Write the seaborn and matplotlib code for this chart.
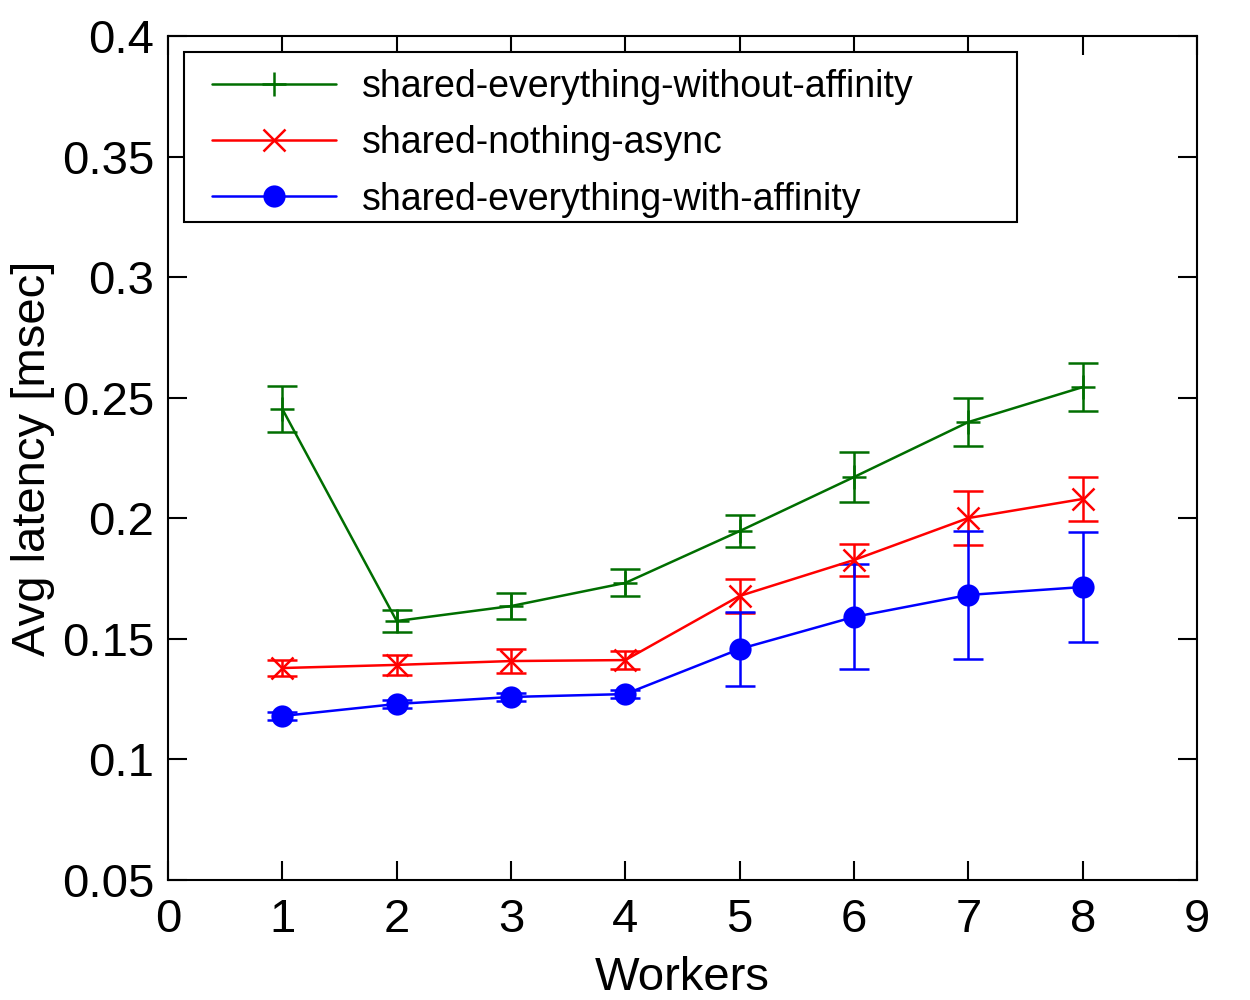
import matplotlib
matplotlib.use("Agg")
import matplotlib.pyplot as plt
from matplotlib.patches import Rectangle
import seaborn as sns
import pandas as pd

workers = [1, 2, 3, 4, 5, 6, 7, 8]

# shared-everything-without-affinity
se_noaff = [0.2453, 0.1574, 0.1636, 0.1732, 0.1947, 0.2171, 0.2399, 0.2544]
se_noaff_err = [0.0095, 0.0045, 0.0054, 0.0056, 0.0066, 0.0104, 0.0098, 0.0100]

# shared-nothing-async
sn_async = [0.1379, 0.1392, 0.1408, 0.1412, 0.1678, 0.1827, 0.2001, 0.2080]
sn_async_err = [0.0035, 0.0040, 0.0050, 0.0038, 0.0070, 0.0068, 0.0112, 0.0090]

# shared-everything-with-affinity
se_aff = [0.1180, 0.1230, 0.1259, 0.1271, 0.1458, 0.1591, 0.1682, 0.1715]
se_aff_err = [0.0015, 0.0015, 0.0015, 0.0015, 0.0155, 0.0218, 0.0265, 0.0228]

labels = ["shared-everything-without-affinity", "shared-nothing-async",
          "shared-everything-with-affinity"]
colors = ["#006e00", "#ff0000", "#0000ff"]
markers = ["+", "x", "o"]
msizes = [17, 16, 16]

sns.set_style("ticks")
plt.rcParams["font.family"] = ["Liberation Sans", "DejaVu Sans"]
plt.rcParams["text.color"] = "black"
plt.rcParams["axes.labelcolor"] = "black"
plt.rcParams["xtick.color"] = "black"
plt.rcParams["ytick.color"] = "black"

fig = plt.figure(figsize=(12.5, 10), dpi=100)
ax = fig.add_axes([0.1344, 0.12, 0.8232, 0.844])

series = [(se_noaff, se_noaff_err), (sn_async, sn_async_err), (se_aff, se_aff_err)]
for (vals, errs), lab, col, mk, ms in zip(series, labels, colors, markers, msizes):
    df = pd.DataFrame({"Workers": workers, "lat": vals})
    sns.lineplot(data=df, x="Workers", y="lat", ax=ax, color=col, marker=mk,
                 markersize=ms, markeredgewidth=1.8 if mk != "o" else 0,
                 markeredgecolor=col, linewidth=1.8, label=lab, zorder=3)
    ax.errorbar(workers, vals, yerr=errs, fmt="none", ecolor=col,
                elinewidth=1.8, capsize=11, capthick=1.8, zorder=2)

ax.set_xlim(0, 9)
ax.set_ylim(0.05, 0.4)
ax.set_xticks(range(0, 10))
ax.set_yticks([0.05, 0.1, 0.15, 0.2, 0.25, 0.3, 0.35, 0.4])
ax.set_yticklabels(["0.05", "0.1", "0.15", "0.2", "0.25", "0.3", "0.35", "0.4"])
ax.tick_params(direction="in", length=14, width=1.5, labelsize=34,
               top=True, right=True)
ax.tick_params(axis="x", pad=13)
ax.tick_params(axis="y", pad=10)
for sp in ax.spines.values():
    sp.set_linewidth(1.5)
    sp.set_color("black")

ax.set_xlabel("Workers", fontsize=34, labelpad=10)
ax.set_ylabel("Avg latency [msec]", fontsize=34, labelpad=5)

# gnuplot-style legend box, wider than its text
ax.add_patch(Rectangle((0.01555, 0.7796), 0.8095, 0.2014, transform=ax.transAxes,
                       fill=True, facecolor="white", edgecolor="black",
                       linewidth=1.5, zorder=4))
leg = ax.legend(loc="upper left", bbox_to_anchor=(0.0428, 0.9609), fontsize=27,
                frameon=False, handlelength=3.3, borderpad=0, borderaxespad=0,
                labelspacing=0.54, handletextpad=0.7)
leg.set_zorder(5)

fig.savefig("out.png", dpi=100)
